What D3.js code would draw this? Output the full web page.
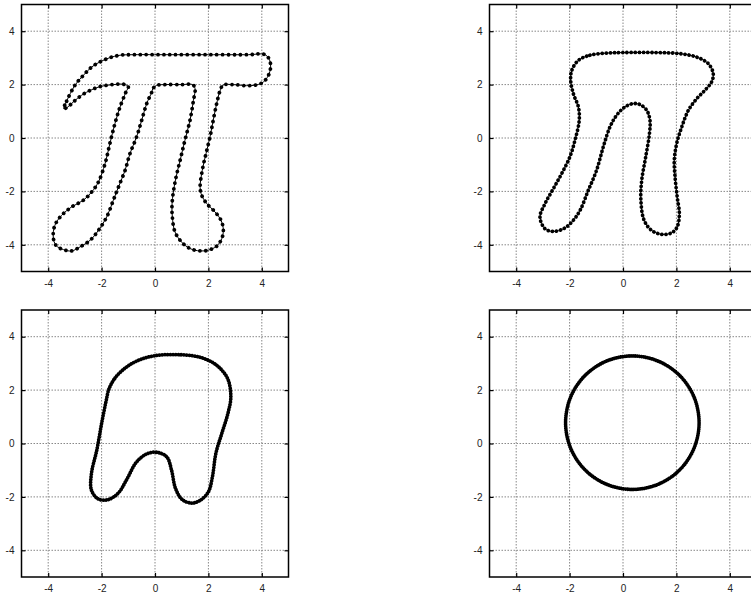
<!DOCTYPE html>
<html><head><meta charset="utf-8">
<script src="https://cdn.jsdelivr.net/npm/d3@7"></script>
<style>
body{margin:0;background:#fff}
svg text{font-family:"Liberation Sans",Arial,Helvetica,sans-serif;font-size:10px;fill:#222}
</style>
</head><body>
<svg id="c" width="751" height="597"></svg>
<script>
const tickValues = [-4, -2, 0, 2, 4];
const tickLabels = ["-4", "-2", "0", "2", "4"];
const axisDomain = [-5, 5];
const nPoints = 200;

// Stage 1: the pi-shaped curve
const stage1 = [
 [-3.42,1.10],[-3.31,1.38],[-3.00,1.97],[-2.68,2.35],[-2.37,2.66],[-2.06,2.85],
 [-1.69,3.01],[-1.31,3.10],[-0.80,3.12],[0.50,3.12],[2.00,3.12],[3.50,3.12],
 [4.10,3.13],[4.28,2.95],[4.33,2.66],[4.25,2.35],[4.06,2.10],[3.81,1.99],
 [3.43,1.96],[2.93,2.00],[2.55,1.98],[2.43,1.75],[2.31,1.29],[2.18,0.66],
 [2.06,0.04],[1.91,-0.59],[1.77,-1.21],[1.69,-1.85],[1.75,-2.15],[1.94,-2.46],
 [2.25,-2.77],[2.48,-3.10],[2.56,-3.45],[2.50,-3.77],[2.31,-4.05],[2.00,-4.20],
 [1.69,-4.23],[1.31,-4.14],[1.00,-3.90],[0.75,-3.52],[0.65,-2.96],[0.64,-2.45],
 [0.75,-1.65],[0.94,-0.84],[1.12,-0.09],[1.31,0.66],[1.44,1.41],[1.50,1.85],
 [1.41,2.00],[1.00,2.00],[0.40,2.00],[0.06,1.97],[-0.08,1.85],[-0.12,1.72],
 [-0.31,1.29],[-0.50,0.66],[-0.69,0.04],[-0.94,-0.59],[-1.12,-1.21],[-1.37,-1.84],
 [-1.56,-2.33],[-1.81,-2.96],[-2.12,-3.46],[-2.43,-3.83],[-2.81,-4.08],[-3.12,-4.23],
 [-3.43,-4.18],[-3.71,-4.02],[-3.81,-3.71],[-3.75,-3.27],[-3.50,-2.90],[-3.12,-2.58],
 [-2.68,-2.33],[-2.37,-2.02],[-2.12,-1.65],[-1.87,-0.96],[-1.69,-0.21],[-1.50,0.54],
 [-1.31,1.16],[-1.09,1.72],[-1.00,1.92],[-1.16,2.01],[-1.56,2.00],[-2.00,1.94],
 [-2.37,1.81],[-2.75,1.60],[-3.06,1.35],[-3.28,1.15]
];

// Stage 2
const stage2 = [
 [-1.67,2.91],[-1.24,3.10],[-0.61,3.18],[0.01,3.20],[1.26,3.20],[2.13,3.16],
 [2.76,3.03],[3.20,2.78],[3.38,2.41],[3.32,2.10],[3.07,1.79],[2.76,1.47],
 [2.45,1.04],[2.20,0.41],[2.01,-0.21],[1.92,-0.84],[1.95,-1.46],[2.03,-2.21],
 [2.11,-2.83],[2.03,-3.33],[1.82,-3.55],[1.45,-3.61],[1.07,-3.46],[0.79,-3.08],
 [0.67,-2.33],[0.70,-1.59],[0.85,-0.71],[0.99,0.16],[1.01,0.66],[0.89,1.04],
 [0.64,1.25],[0.39,1.29],[0.07,1.16],[-0.24,0.85],[-0.49,0.41],[-0.74,-0.34],
 [-0.99,-1.21],[-1.30,-1.96],[-1.61,-2.71],[-1.92,-3.15],[-2.23,-3.40],[-2.61,-3.50],
 [-2.92,-3.40],[-3.11,-2.96],[-2.92,-2.46],[-2.61,-1.90],[-2.30,-1.34],[-1.99,-0.71],
 [-1.80,-0.09],[-1.64,0.66],[-1.67,1.16],[-1.86,1.66],[-1.96,2.16],[-1.92,2.53]
];

// Stage 3
const stage3 = [
 [-1.72,2.05],[-1.50,2.45],[-1.15,2.80],[-0.70,3.08],[-0.06,3.28],[0.81,3.33],
 [1.69,3.23],[2.31,2.93],[2.72,2.43],[2.84,1.75],[2.73,1.12],[2.50,0.37],
 [2.28,-0.37],[2.15,-1.25],[2.00,-1.81],[1.69,-2.13],[1.37,-2.23],[1.02,-2.10],
 [0.77,-1.69],[0.62,-1.00],[0.44,-0.50],[0.06,-0.33],[-0.31,-0.39],[-0.69,-0.69],
 [-1.06,-1.35],[-1.37,-1.85],[-1.75,-2.10],[-2.12,-2.08],[-2.38,-1.75],[-2.38,-1.12],
 [-2.18,-0.25],[-2.00,0.75],[-1.84,1.55]
];

// Stage 4: near-circle
const stage4 = [
 [2.85,0.78],[2.66,1.74],[2.12,2.55],[1.31,3.09],[0.35,3.28],[-0.61,3.09],
 [-1.42,2.55],[-1.96,1.74],[-2.15,0.78],[-1.96,-0.18],[-1.42,-0.99],[-0.61,-1.53],
 [0.35,-1.72],[1.31,-1.53],[2.12,-0.99],[2.66,-0.18]
];

const size = 267;
const panels = [
  {data: stage1, left: 21.5, top: 4.5},
  {data: stage2, left: 489.5, top: 4.5},
  {data: stage3, left: 21.5, top: 310},
  {data: stage4, left: 489.5, top: 310}
];

const svg = d3.select("#c");
const fmt = (d, i) => tickLabels[i];

panels.forEach(p => {
  const g = svg.append("g").attr("transform", `translate(${p.left},${p.top})`);
  const x = d3.scaleLinear().domain(axisDomain).range([0, size]);
  const y = d3.scaleLinear().domain(axisDomain).range([size, 0]);

  // grid
  g.append("g").selectAll("line").data(tickValues).join("line")
    .attr("x1", d => x(d)).attr("x2", d => x(d)).attr("y1", 0).attr("y2", size)
    .attr("stroke", "#888").attr("stroke-width", 1).attr("stroke-dasharray", "1.5,1.5");
  g.append("g").selectAll("line").data(tickValues).join("line")
    .attr("y1", d => y(d)).attr("y2", d => y(d)).attr("x1", 0).attr("x2", size)
    .attr("stroke", "#888").attr("stroke-width", 1).attr("stroke-dasharray", "1.5,1.5");

  // axes with inward ticks
  const ax = [
    g.append("g").attr("transform", `translate(0,${size})`).call(d3.axisBottom(x).tickValues(tickValues).tickFormat(fmt).tickSize(-4).tickPadding(8)),
    g.append("g").call(d3.axisLeft(y).tickValues(tickValues).tickFormat(fmt).tickSize(-4).tickPadding(7)),
    g.append("g").call(d3.axisTop(x).tickValues(tickValues).tickSize(-4).tickFormat("")),
    g.append("g").attr("transform", `translate(${size},0)`).call(d3.axisRight(y).tickValues(tickValues).tickSize(-4).tickFormat(""))
  ];
  ax.forEach(a => {
    a.select(".domain").remove();
    a.selectAll("line").attr("stroke", "#000").attr("stroke-width", 1.2);
    a.selectAll("text").attr("fill", "#222").style("font-size", "10px");
  });

  // frame
  g.append("rect").attr("x", 0).attr("y", 0).attr("width", size).attr("height", size)
    .attr("fill", "none").attr("stroke", "#000").attr("stroke-width", 1.5);

  // curve
  const line = d3.line().x(d => x(d[0])).y(d => y(d[1])).curve(d3.curveCatmullRomClosed.alpha(0.5));
  const path = g.append("path").attr("d", line(p.data))
    .attr("fill", "none").attr("stroke", "#000").attr("stroke-width", 1);
  const len = path.node().getTotalLength();
  const step = len / nPoints;
  g.append("path").attr("d", line(p.data))
    .attr("fill", "none").attr("stroke", "#000").attr("stroke-width", 3.8)
    .attr("stroke-linecap", "round").attr("stroke-dasharray", `0.01,${(step - 0.01).toFixed(3)}`);
});
</script>
</body></html>
